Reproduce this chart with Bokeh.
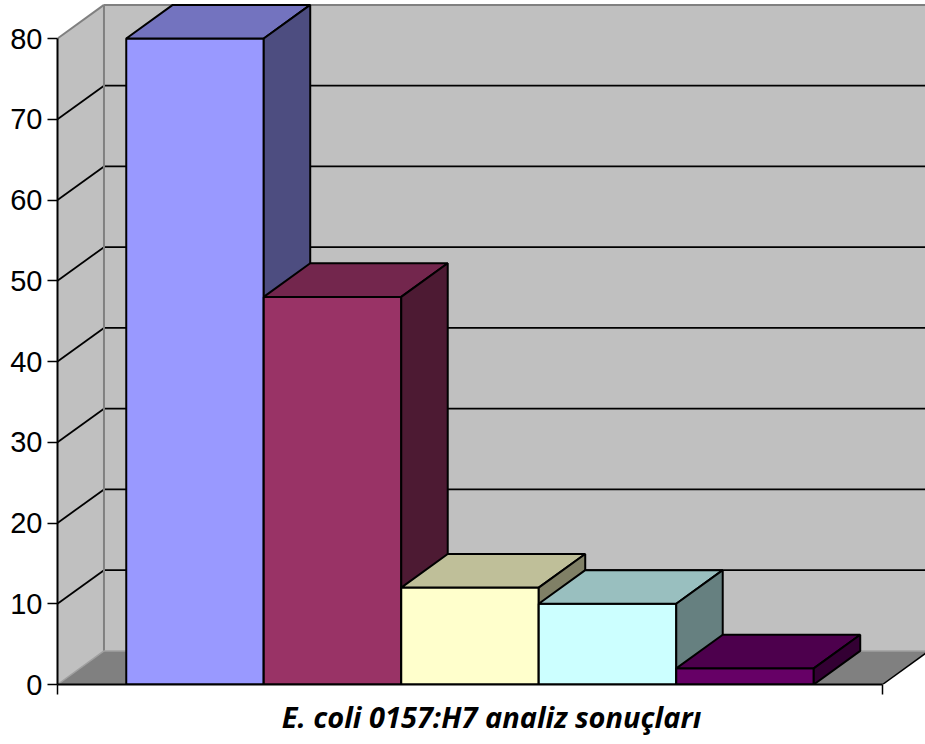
from bokeh.plotting import figure
from bokeh.models import Range1d, FixedTicker
from bokeh.embed import file_html
from bokeh.resources import INLINE

# Data: one category with five series
bar_values = [80, 48, 12, 10, 2]
front_colors = ["#9999FF", "#993366", "#FFFFCC", "#CCFFFF", "#660066"]
top_colors = ["#7373BF", "#73264D", "#BFBF99", "#99BFBF", "#4D004D"]
side_colors = ["#4D4D80", "#4D1A33", "#808066", "#668080", "#330033"]
tick_values = [0, 10, 20, 30, 40, 50, 60, 70, 80]
axis_title = "E. coli 0157:H7 analiz sonuçları"

# 3-D projection offsets (data units) and plot extents
DX = 0.338          # depth shift along x
DY = 4.16           # depth shift along y
X_END = 6.0         # floor / category axis length
Y_MAX = 80

p = figure(width=925, height=744, output_backend="svg", toolbar_location=None,
           x_range=Range1d(0, 6.3127), y_range=Range1d(0, 84.706),
           min_border_left=57, min_border_right=0, min_border_top=0,
           min_border_bottom=60, background_fill_color="white",
           border_fill_color="white", outline_line_color=None)
p.grid.visible = False

# Walls and floor
p.patch([DX, X_END + DX, X_END + DX, DX], [DY, DY, Y_MAX + DY, Y_MAX + DY],
        fill_color="#C0C0C0", line_color=None)
p.patch([0, DX, DX, 0], [0, DY, Y_MAX + DY, Y_MAX],
        fill_color="#C0C0C0", line_color=None)
p.patch([0, X_END, X_END + DX, DX], [0, 0, DY, DY],
        fill_color="#808080", line_color=None)

# Gridlines on the side wall and the back wall
grid_vals = [v for v in tick_values if 0 < v < Y_MAX]
p.multi_line([[0, DX] for v in grid_vals], [[v, v + DY] for v in grid_vals],
             line_color="black", line_width=1.8)
p.multi_line([[DX, X_END + DX] for v in grid_vals], [[v + DY, v + DY] for v in grid_vals],
             line_color="black", line_width=1.8)

# Wall edges
p.multi_line([[0, DX], [DX, X_END + DX], [DX, DX]],
             [[Y_MAX, Y_MAX + DY], [Y_MAX + DY, Y_MAX + DY], [DY, Y_MAX + DY]],
             line_color="#808080", line_width=2)
p.multi_line([[0, DX], [DX, X_END + DX]], [[0, DY], [DY, DY]],
             line_color="#A0A0A0", line_width=1.5)
p.line([X_END, X_END + DX], [0, DY], line_color="black", line_width=1.5)

# Bars, drawn left to right so nearer bars overlap
for i, v in enumerate(bar_values):
    x0, x1 = 0.5 + i, 1.5 + i
    p.patch([x0, x1, x1, x0], [0, 0, v, v],
            fill_color=front_colors[i], line_color="black", line_width=2)
    p.patch([x0, x1, x1 + DX, x0 + DX], [v, v, v + DY, v + DY],
            fill_color=top_colors[i], line_color="black", line_width=2)
    p.patch([x1, x1 + DX, x1 + DX, x1], [0, DY, v + DY, v],
            fill_color=side_colors[i], line_color="black", line_width=2)

# Value axis
ya = p.yaxis[0]
ya.ticker = FixedTicker(ticks=tick_values)
ya.bounds = (0, Y_MAX)
ya.axis_line_width = 2
ya.major_tick_line_width = 1.5
ya.major_tick_out = 10
ya.major_tick_in = 0
ya.minor_tick_line_color = None
ya.major_label_text_font = "Liberation Sans"
ya.major_label_text_font_size = "29px"
ya.major_label_text_color = "black"
ya.major_label_standoff = 5

# Category axis (end ticks only, no tick labels) with title
xa = p.xaxis[0]
xa.ticker = FixedTicker(ticks=[0, X_END])
xa.bounds = (0, X_END)
xa.axis_line_width = 2
xa.major_tick_line_width = 1.5
xa.major_tick_out = 10
xa.major_tick_in = 0
xa.minor_tick_line_color = None
xa.major_label_overrides = {0: "", 6: ""}
xa.major_label_text_font_size = "6px"
xa.major_label_standoff = 0
xa.axis_label = axis_title
xa.axis_label_text_font = "Open Sans"
xa.axis_label_text_font_style = "bold italic"
xa.axis_label_text_font_size = "29px"
xa.axis_label_text_color = "black"
xa.axis_label_standoff = 2

open("out.html", "w").write(file_html(p, INLINE))
